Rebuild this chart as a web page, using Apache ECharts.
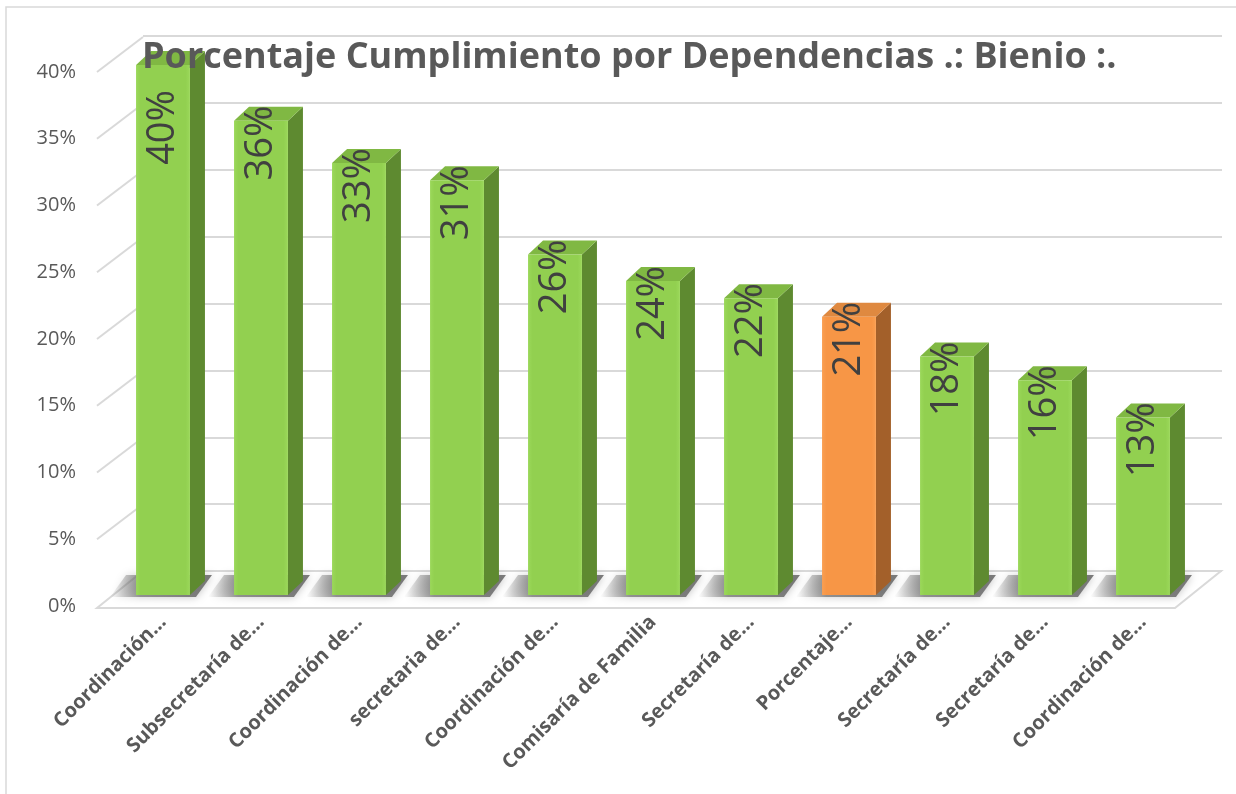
<!DOCTYPE html>
<html>
<head>
<meta charset="utf-8">
<title>Porcentaje Cumplimiento por Dependencias</title>
<script src="https://cdn.jsdelivr.net/npm/echarts@6/dist/echarts.min.js"></script>
<style>
  html, body { margin: 0; padding: 0; background: #fff; }
  #chart { width: 1236px; height: 794px; }
</style>
</head>
<body>
<div id="chart"></div>
<script>
// categorias (texto recortado tal como aparece en el grafico)
const categories = [
  'Coordinación…', 'Subsecretaría de…', 'Coordinación de…', 'secretaria de…',
  'Coordinación de…', 'Comisaría de Familia', 'Secretaría de…', 'Porcentaje…',
  'Secretaría de…', 'Secretaría de…', 'Coordinación de…'
]
const cumplimiento = [0.40, 0.358, 0.326, 0.313, 0.257, 0.237, 0.224, 0.21, 0.18, 0.162, 0.134]
const yTicks = [0, 0.05, 0.10, 0.15, 0.20, 0.25, 0.30, 0.35, 0.40]
const highlight = 'Porcentaje…'

// desplazamiento de profundidad (frente -> fondo)
const DEPTH = [46, -35]
const BAR_DEPTH = [15, -14]

const green = { front: '#92d050', light: '#9bd85a', side: '#5e8a30', top: '#80b843' }
const orange = { front: '#f79646', light: '#fa9f52', side: '#a3602a', top: '#df8940' }

const chart = echarts.init(document.getElementById('chart'))

function renderGrid(params, api) {
  const v = api.value(1)
  const p = api.coord([0, v])
  const children = []
  if (v === 0) {
    const pr = api.coord([1, 0])
    children.push({
      type: 'polygon',
      shape: { points: [[p[0], p[1] + 2], [pr[0], pr[1] + 2], [pr[0] + DEPTH[0], pr[1] + DEPTH[1]], [p[0] + DEPTH[0], p[1] + DEPTH[1]]] },
      style: { fill: '#ffffff', stroke: '#d9d9d9', lineWidth: 2 }
    })
  } else {
    children.push({
      type: 'line',
      shape: { x1: p[0], y1: p[1], x2: p[0] + DEPTH[0], y2: p[1] + DEPTH[1] },
      style: { stroke: '#d9d9d9', lineWidth: 2 }
    })
  }
  return { type: 'group', children: children }
}

function renderBar(params, api) {
  const idx = api.value(0)
  const val = api.value(1)
  const top = api.coord([idx, val])
  const base = api.coord([idx, 0])
  const w = api.size([1, 0])[0] * 0.55
  const xl = top[0] - w / 2
  const xr = top[0] + w / 2
  const yt = top[1]
  const yb = base[1]
  const c = categories[idx] === highlight ? orange : green
  const dx = BAR_DEPTH[0], dy = BAR_DEPTH[1]
  const labelY = Math.max(yt - 15, 90)
  return {
    type: 'group',
    children: [
      {
        type: 'polygon',
        shape: { points: [[xl - 26, yb + 2], [xr + 6, yb + 2], [xr + 6 + 16, yb - 20], [xl - 26 + 16, yb - 20]] },
        style: {
          fill: new echarts.graphic.LinearGradient(0, 0, 1, 0, [
            { offset: 0, color: 'rgba(110,110,110,0)' },
            { offset: 0.3, color: 'rgba(110,110,110,0.7)' },
            { offset: 1, color: 'rgba(100,100,100,0.85)' }
          ]),
          shadowBlur: 8, shadowColor: 'rgba(0,0,0,0.3)'
        }
      },
      {
        type: 'polygon',
        shape: { points: [[xr, yt], [xr + dx, yt + dy], [xr + dx, yb + dy], [xr, yb]] },
        style: { fill: c.side }
      },
      {
        type: 'polygon',
        shape: { points: [[xl, yt], [xl + dx, yt + dy], [xr + dx, yt + dy], [xr, yt]] },
        style: { fill: c.top }
      },
      {
        type: 'rect',
        shape: { x: xl, y: yt, width: w, height: yb - yt },
        style: {
          fill: new echarts.graphic.LinearGradient(0, 0, 1, 0, [
            { offset: 0, color: c.light },
            { offset: 0.08, color: c.front },
            { offset: 0.92, color: c.front },
            { offset: 1, color: c.light }
          ])
        }
      },
      {
        type: 'text',
        x: top[0],
        y: labelY,
        rotation: Math.PI / 2,
        style: {
          text: Math.round(val * 100) + '%',
          align: 'right',
          verticalAlign: 'middle',
          fontFamily: 'Open Sans',
          fontSize: 38,
          fill: '#404040'
        }
      }
    ]
  }
}

const option = {
  animation: false,
  backgroundColor: '#ffffff',
  title: {
    text: 'Porcentaje Cumplimiento por Dependencias .: Bienio :.',
    left: 137,
    top: 35,
    textStyle: { fontFamily: 'Open Sans', fontWeight: 'bold', fontSize: 36, color: '#595959' }
  },
  graphic: [{
    type: 'rect',
    shape: { x: 6, y: 7, width: 1300, height: 900 },
    style: { fill: 'none', stroke: '#d9d9d9', lineWidth: 1.5 },
    silent: true
  }],
  grid: [
    { left: 97, right: 61, top: 72, bottom: 188 },   // plano frontal
    { left: 143, right: 14, top: 36, bottom: 223 },  // pared del fondo
    { left: 114, width: 1078, top: 65, bottom: 199 } // barras
  ],
  xAxis: [
    { gridIndex: 0, type: 'value', min: 0, max: 1, show: false },
    { gridIndex: 1, type: 'value', min: 0, max: 1, show: false },
    {
      gridIndex: 2, type: 'category', data: categories,
      axisLine: { show: false }, axisTick: { show: false },
      axisLabel: {
        interval: 0, rotate: 45, margin: 24,
        fontFamily: 'Open Sans', fontWeight: 'bold', fontSize: 20, color: '#595959'
      }
    }
  ],
  yAxis: [
    {
      gridIndex: 0, type: 'value', min: 0, max: 0.4, interval: 0.05,
      axisLine: { show: false }, axisTick: { show: false }, splitLine: { show: false },
      axisLabel: {
        margin: 21, fontFamily: 'Open Sans', fontSize: 20, color: '#595959',
        formatter: v => Math.round(v * 100) + '%'
      }
    },
    {
      gridIndex: 1, type: 'value', min: 0, max: 0.4, interval: 0.05,
      axisLine: { show: false }, axisTick: { show: false }, axisLabel: { show: false },
      splitLine: { lineStyle: { color: '#d9d9d9', width: 2 } }
    },
    { gridIndex: 2, type: 'value', min: 0, max: 0.4, show: false }
  ],
  series: [
    {
      name: 'grid',
      type: 'custom',
      xAxisIndex: 0, yAxisIndex: 0,
      silent: true,
      renderItem: renderGrid,
      data: yTicks.map(v => [0, v]),
      z: 1
    },
    {
      name: 'Cumplimiento',
      type: 'custom',
      xAxisIndex: 2, yAxisIndex: 2,
      renderItem: renderBar,
      data: cumplimiento.map((v, i) => [i, v]),
      z: 3
    }
  ]
}

chart.setOption(option)
</script>
</body>
</html>
